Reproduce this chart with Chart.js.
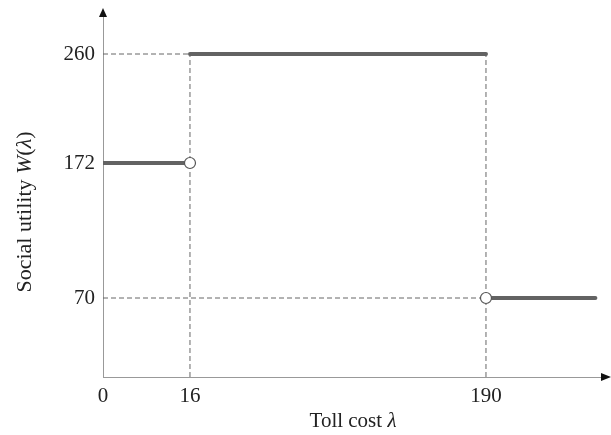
<!DOCTYPE html>
<html>
<head>
<meta charset="utf-8">
<script src="https://cdn.jsdelivr.net/npm/chart.js@4/dist/chart.umd.min.js"></script>
<style>
  html, body { margin: 0; padding: 0; background: #fff; }
  #wrap { width: 611px; height: 435px; position: relative; }
</style>
</head>
<body>
<div id="wrap"><canvas id="c"></canvas></div>
<script>
// ---- data ----
const xTickValues = [0, 16, 190];          // Toll cost λ tick labels
const yTickValues = [70, 172, 260];        // Social utility W(λ) tick labels
const stepStarts  = [0, 16, 190];          // start of each step
const stepEnds    = [16, 190, 256];        // end of each step
const stepLevels  = [172, 260, 70];        // W(λ) on each step
const openPointsX = [16, 190];             // open circles (excluded endpoints)
const openPointsY = [172, 70];

// ---- schematic (piecewise-linear) axis mapping: value -> fraction of axis ----
const KNOTS = {
  x: [[0, 0], [16, 0.1743], [190, 0.7675], [260, 1]],
  y: [[0, 0], [70, 0.2188], [172, 0.5928], [260, 0.8947], [300, 1]]
};
function interp(knots, v, a, b) {
  for (let i = 0; i < knots.length - 1; i++) {
    const k0 = knots[i], k1 = knots[i + 1];
    if (v <= k1[a] || i === knots.length - 2) {
      return k0[b] + (v - k0[a]) * (k1[b] - k0[b]) / (k1[a] - k0[a]);
    }
  }
}
class PiecewiseScale extends Chart.LinearScale {
  getPixelForValue(value) {
    if (value === null || value === undefined) return NaN;
    return this.getPixelForDecimal(interp(KNOTS[this.id], value, 0, 1));
  }
  getValueForPixel(pixel) {
    return interp(KNOTS[this.id], this.getDecimalForPixel(pixel), 1, 0);
  }
}
PiecewiseScale.id = 'piecewise';
PiecewiseScale.defaults = Chart.LinearScale.defaults;
Chart.register(PiecewiseScale);

// ---- datasets built from arrays ----
const solidColor = '#636363';
const dashColor = '#666666';
const datasets = [];
stepLevels.forEach((lvl, i) => {
  datasets.push({
    data: [{ x: stepStarts[i], y: lvl }, { x: stepEnds[i], y: lvl }],
    borderColor: solidColor, borderWidth: 4, borderCapStyle: 'round',
    pointRadius: 0, order: 1
  });
});
// dashed guides
const guides = [];
guides.push([{ x: 0, y: stepLevels[1] }, { x: stepStarts[1], y: stepLevels[1] }]);
guides.push([{ x: 0, y: stepLevels[2] }, { x: stepStarts[2], y: stepLevels[2] }]);
guides.push([{ x: stepStarts[1], y: 0 }, { x: stepStarts[1], y: stepLevels[1] }]);
guides.push([{ x: stepStarts[2], y: 0 }, { x: stepStarts[2], y: stepLevels[1] }]);
guides.forEach(g => datasets.push({
  data: g, borderColor: dashColor, borderWidth: 1, borderDash: [5, 3],
  pointRadius: 0, order: 2
}));
// open circles
datasets.push({
  data: openPointsX.map((x, i) => ({ x, y: openPointsY[i] })),
  showLine: false, pointRadius: 5.5, pointBackgroundColor: '#ffffff',
  pointBorderColor: '#555555', pointBorderWidth: 1.2, order: 0
});

const serif = "'Liberation Serif', 'DejaVu Serif', serif";

function drawRich(ctx, parts, x, y, size) {
  let total = 0;
  parts.forEach(p => {
    ctx.font = (p.it ? 'italic ' : '') + size + 'px ' + serif;
    p.w = ctx.measureText(p.t).width; total += p.w;
  });
  let cx = x - total / 2;
  parts.forEach(p => {
    ctx.font = (p.it ? 'italic ' : '') + size + 'px ' + serif;
    ctx.fillText(p.t, cx, y); cx += p.w;
  });
}

const decorPlugin = {
  id: 'decor',
  afterDraw(chart) {
    const ctx = chart.ctx, a = chart.chartArea;
    ctx.save();
    ctx.fillStyle = '#111';
    // y arrow
    ctx.beginPath();
    ctx.moveTo(a.left, a.top - 8);
    ctx.lineTo(a.left - 4, a.top + 1);
    ctx.lineTo(a.left + 4, a.top + 1);
    ctx.closePath(); ctx.fill();
    // x arrow
    ctx.beginPath();
    ctx.moveTo(a.right + 9, a.bottom);
    ctx.lineTo(a.right - 1, a.bottom - 4);
    ctx.lineTo(a.right - 1, a.bottom + 4);
    ctx.closePath(); ctx.fill();
    // axis titles
    ctx.fillStyle = '#222';
    ctx.textBaseline = 'alphabetic';
    ctx.textAlign = 'left';
    drawRich(ctx, [{ t: 'Toll cost ' }, { t: 'λ', it: true }], 353, 427, 21);
    ctx.translate(31, 212);
    ctx.rotate(-Math.PI / 2);
    drawRich(ctx, [{ t: 'Social utility ' }, { t: 'W', it: true }, { t: '(' }, { t: 'λ', it: true }, { t: ')' }], 0, 0, 22);
    ctx.restore();
  }
};

new Chart(document.getElementById('c'), {
  type: 'line',
  data: { datasets },
  plugins: [decorPlugin],
  options: {
    responsive: true, maintainAspectRatio: false, animation: false,
    layout: { padding: { top: 16, right: 9, left: 0, bottom: 0 } },
    plugins: { legend: { display: false }, tooltip: { enabled: false } },
    elements: { line: { tension: 0 } },
    scales: {
      x: {
        type: 'piecewise', min: 0, max: 260,
        grid: { display: false, drawTicks: false },
        border: { display: true, color: '#999999', width: 1 },
        ticks: { padding: 7, color: '#222', font: { family: serif, size: 21 }, maxRotation: 0, autoSkip: false },
        afterBuildTicks: s => { s.ticks = xTickValues.map(v => ({ value: v })); },
        afterFit: s => { s.height = 58; s.paddingLeft = 0; s.paddingRight = 0; }
      },
      y: {
        type: 'piecewise', min: 0, max: 300,
        grid: { display: false, drawTicks: false },
        border: { display: true, color: '#999999', width: 1 },
        ticks: { padding: 8, color: '#222', font: { family: serif, size: 21 }, autoSkip: false },
        afterBuildTicks: s => { s.ticks = yTickValues.map(v => ({ value: v })); },
        afterFit: s => { s.width = 103; s.paddingTop = 0; s.paddingBottom = 0; }
      }
    }
  }
});
</script>
</body>
</html>
